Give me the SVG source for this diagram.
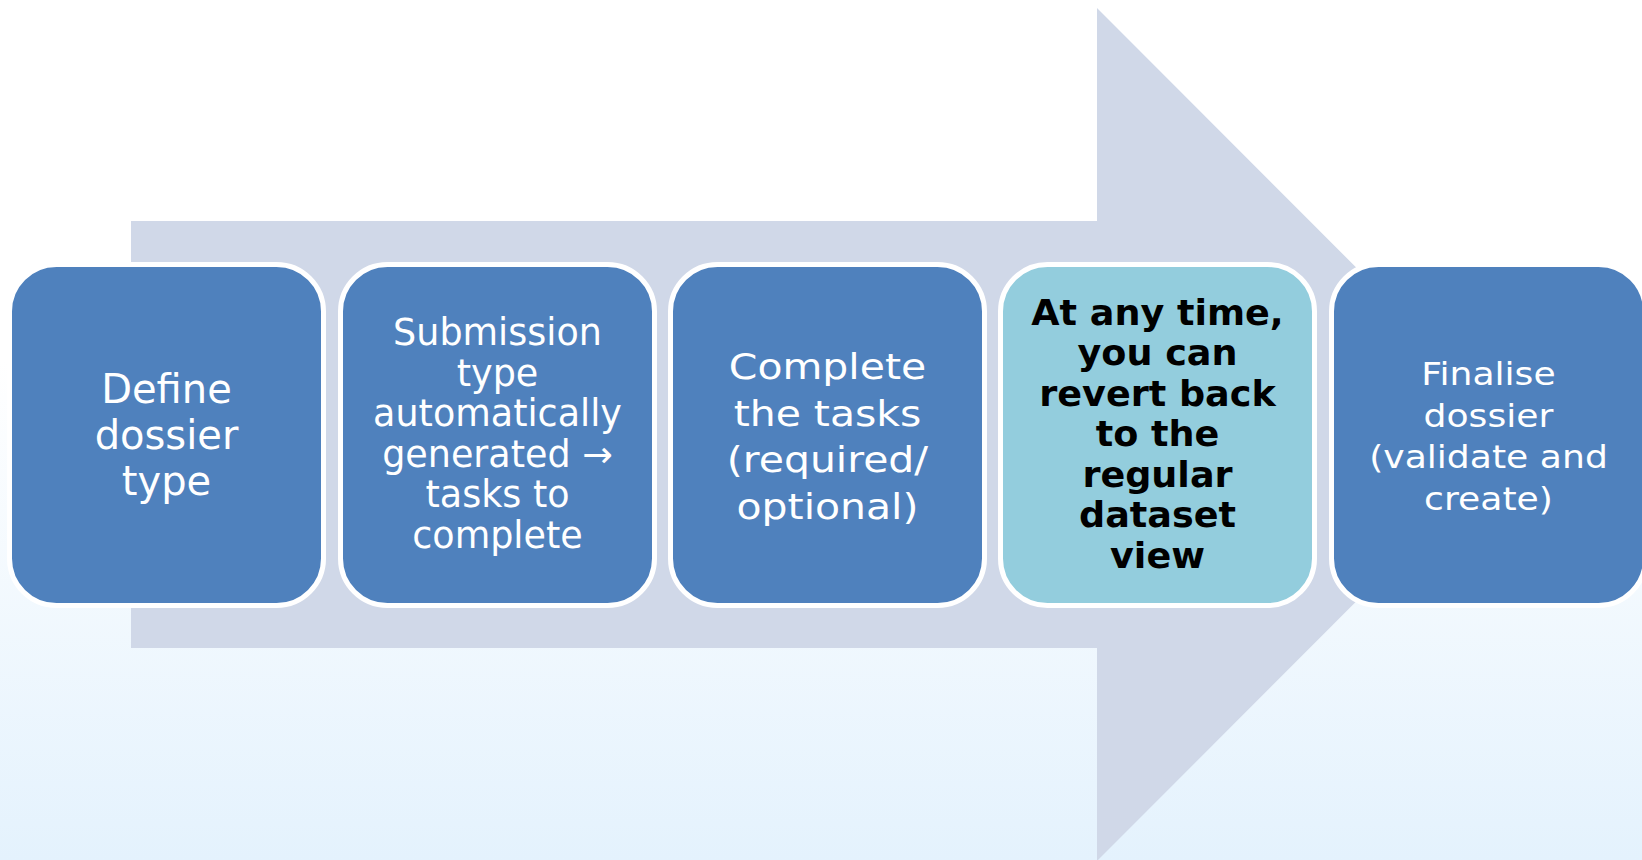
<svg xmlns="http://www.w3.org/2000/svg" width="1642" height="860" viewBox="0 0 1642 860">
  <defs>
    <linearGradient id="bg" x1="0" y1="0" x2="0" y2="1">
      <stop offset="0" stop-color="#FFFFFF"/>
      <stop offset="0.42" stop-color="#FFFFFF"/>
      <stop offset="1" stop-color="#E4F2FD"/>
    </linearGradient>
    <style>
      .card { stroke: #FFFFFF; stroke-width: 5; }
      .blue { fill: #4F81BD; }
      .teal { fill: #93CDDD; }
      .lbl { font-family: "DejaVu Sans", Verdana, sans-serif; fill: #FFFFFF; text-anchor: middle; }
      .bold { font-family: "DejaVu Sans", Verdana, sans-serif; font-weight: bold; fill: #000000; text-anchor: middle; }
    </style>
  </defs>

  <!-- backdrop -->
  <rect x="0" y="0" width="1642" height="860" fill="url(#bg)"/>

  <!-- large process arrow behind the steps -->
  <g id="connectors">
    <polygon points="131,221 1097,221 1097,8 1523,434.5 1097,861 1097,648 131,648" fill="#D0D8E8"/>
  </g>

  <!-- step 1 -->
  <g id="step-define">
    <rect class="card blue" x="9.5" y="264.5" width="314" height="341" rx="47"/>
    <text class="lbl" font-size="40"><tspan x="166.5" y="402.7">Define</tspan><tspan x="166.5" y="448.5">dossier</tspan><tspan x="166.5" y="494.5">type</tspan></text>
  </g>

  <!-- step 2 -->
  <g id="step-submission">
    <rect class="card blue" x="340.5" y="264.5" width="314" height="341" rx="47"/>
    <text class="lbl" font-size="36.5"><tspan x="497.5" y="345">Submission</tspan><tspan x="497.5" y="385.6">type</tspan><tspan x="497.5" y="426.2">automatically</tspan><tspan x="497.5" y="466.8">generated →</tspan><tspan x="497.5" y="507.4">tasks to</tspan><tspan x="497.5" y="548">complete</tspan></text>
  </g>

  <!-- step 3 -->
  <g id="step-complete">
    <rect class="card blue" x="670.5" y="264.5" width="314" height="341" rx="47"/>
    <text class="lbl" font-size="35" transform="translate(827.5 0) scale(1.17 1) translate(-827.5 0)"><tspan x="827.5" y="379">Complete</tspan><tspan x="827.5" y="425.7">the tasks</tspan><tspan x="827.5" y="472.4">(required/</tspan><tspan x="827.5" y="519">optional)</tspan></text>
  </g>

  <!-- step 4 (highlighted note) -->
  <g id="step-revert">
    <rect class="card teal" x="1000.5" y="264.5" width="314" height="341" rx="47"/>
    <text class="bold" font-size="35.5" transform="translate(1157.5 0) scale(1.03 1) translate(-1157.5 0)"><tspan x="1157.5" y="325">At any time,</tspan><tspan x="1157.5" y="365.5">you can</tspan><tspan x="1157.5" y="406">revert back</tspan><tspan x="1157.5" y="446.5">to the</tspan><tspan x="1157.5" y="487">regular</tspan><tspan x="1157.5" y="527.5">dataset</tspan><tspan x="1157.5" y="568">view</tspan></text>
  </g>

  <!-- step 5 -->
  <g id="step-finalise">
    <rect class="card blue" x="1331.5" y="264.5" width="314" height="341" rx="47"/>
    <text class="lbl" font-size="32" transform="translate(1488.5 0) scale(1.13 1) translate(-1488.5 0)"><tspan x="1488.5" y="385">Finalise</tspan><tspan x="1488.5" y="426.7">dossier</tspan><tspan x="1488.5" y="468.4">(validate and</tspan><tspan x="1488.5" y="510">create)</tspan></text>
  </g>
</svg>
